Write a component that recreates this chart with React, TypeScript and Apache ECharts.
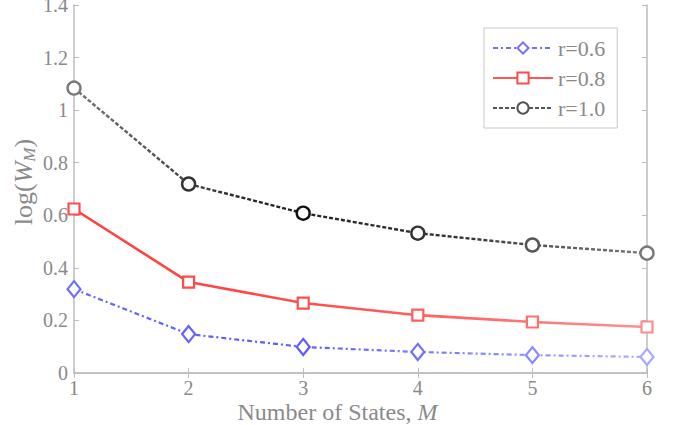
import React, { useEffect, useRef } from "react";
import * as echarts from "echarts";

const states = [1, 2, 3, 4, 5, 6];
const r06 = [0.319, 0.148, 0.099, 0.080, 0.068, 0.061];
const r08 = [0.624, 0.346, 0.266, 0.220, 0.194, 0.175];
const r10 = [1.084, 0.719, 0.608, 0.532, 0.487, 0.456];
const seriesNames = ["r=0.6", "r=0.8", "r=1.0"];
const yTicks = [0, 0.2, 0.4, 0.6, 0.8, 1, 1.2, 1.4];

const FONT = "Liberation Serif";
const GRAY = "#8a8a8a";
const AXIS = "#bdbdbd";

const markerColors06 = ["#6f6fff", "#6464ff", "#5c5cff", "#7070ff", "#8888ff", "#a8a8ff"];
const markerColors08 = ["#ff4a4a", "#ff4a4a", "#ff4d4d", "#ff5c5c", "#ff7070", "#ff8c8c"];
const markerColors10 = ["#7a7a7a", "#333333", "#111111", "#333333", "#555555", "#777777"];

function grad(stops: string[]) {
  return {
    type: "linear",
    x: 0,
    y: 0,
    x2: 1,
    y2: 0,
    colorStops: stops.map((c, i) => ({ offset: i / (stops.length - 1), color: c })),
  };
}

function mk(values: number[], colors: string[]) {
  return values.map((v, i) => ({
    value: [states[i], v],
    itemStyle: { borderColor: colors[i] },
  }));
}

export default function App() {
  const ref = useRef<HTMLDivElement>(null);
  useEffect(() => {
    const chart = echarts.init(ref.current!, null, { renderer: "svg" });
    const option: any = {
      animation: false,
      backgroundColor: "#ffffff",
      grid: { left: 74, right: 31, top: 5, bottom: 52, containLabel: false, outerBoundsMode: "none" },
      legend: {
        orient: "vertical",
        left: 484,
        top: 28,
        width: 146,
        padding: [9, 12, 9, 8],
        itemGap: 8,
        itemWidth: 60,
        itemHeight: 14,
        backgroundColor: "#ffffff",
        borderColor: "#c8c8c8",
        borderWidth: 1,
        borderRadius: 0,
        data: [
          { name: seriesNames[0], lineStyle: { color: "#7070ff" } },
          { name: seriesNames[1], lineStyle: { color: "#ff5555" } },
          { name: seriesNames[2], lineStyle: { color: "#555555" } },
        ],
        textStyle: { fontFamily: FONT, fontSize: 22, color: GRAY },
      },
      xAxis: [
        {
          type: "value",
          min: 1,
          max: 6,
          interval: 1,
          position: "bottom",
          name: "Number of States, {i|M}",
          nameLocation: "middle",
          nameGap: 27,
          nameMoveOverlap: false,
          nameTextStyle: {
            fontFamily: FONT,
            fontSize: 24,
            color: GRAY,
            padding: [0, 46, 0, 0],
            rich: { i: { fontFamily: FONT, fontSize: 24, fontStyle: "italic", color: GRAY } },
          },
          axisLine: { show: true, lineStyle: { color: AXIS, width: 1.5 } },
          axisTick: { show: true, inside: true, length: 5, lineStyle: { color: AXIS } },
          axisLabel: { fontFamily: FONT, fontSize: 20, color: GRAY, margin: 5 },
          splitLine: { show: false },
        },
        {
          type: "value",
          min: 1,
          max: 6,
          interval: 1,
          position: "top",
          axisLine: { show: true, lineStyle: { color: AXIS, width: 1.5 } },
          axisTick: { show: true, inside: true, length: 5, lineStyle: { color: AXIS } },
          axisLabel: { show: false },
          splitLine: { show: false },
        },
      ],
      yAxis: [
        {
          type: "value",
          min: yTicks[0],
          max: yTicks[yTicks.length - 1],
          interval: 0.2,
          position: "left",
          name: "log({i|W}{s|M})",
          nameLocation: "middle",
          nameGap: 36,
          nameMoveOverlap: false,
          nameRotate: 90,
          nameTextStyle: {
            fontFamily: FONT,
            fontSize: 26,
            color: GRAY,
            padding: [0, 0, 0, 14],
            rich: {
              i: { fontFamily: FONT, fontSize: 26, fontStyle: "italic", color: GRAY },
              s: {
                fontFamily: FONT,
                fontSize: 17,
                fontStyle: "italic",
                color: GRAY,
                padding: [12, 0, 0, 0],
              },
            },
          },
          axisLine: { show: true, lineStyle: { color: AXIS, width: 1.5 } },
          axisTick: { show: true, inside: true, length: 5, lineStyle: { color: AXIS } },
          axisLabel: {
            fontFamily: FONT,
            fontSize: 20,
            color: GRAY,
            margin: 6,
            formatter: (v: number) => (Number.isInteger(v) ? String(v) : v.toFixed(1)),
          },
          splitLine: { show: false },
        },
        {
          type: "value",
          min: yTicks[0],
          max: yTicks[yTicks.length - 1],
          interval: 0.2,
          position: "right",
          axisLine: { show: true, lineStyle: { color: AXIS, width: 1.5 } },
          axisTick: { show: true, inside: true, length: 5, lineStyle: { color: AXIS } },
          axisLabel: { show: false },
          splitLine: { show: false },
        },
      ],
      series: [
        {
          name: seriesNames[0],
          type: "line",
          data: mk(r06, markerColors06),
          symbol: "diamond",
          symbolSize: [13, 16],
          color: "#7070ff",
          itemStyle: { color: "#ffffff", borderColor: "#7070ff", borderWidth: 2.2 },
          lineStyle: { width: 2.2, type: [5, 3, 2, 3], color: grad(["#6a6aff", "#5a5aff", "#8080ff", "#aeaeff"]) },
          z: 3,
        },
        {
          name: seriesNames[1],
          type: "line",
          data: mk(r08, markerColors08),
          symbol: "rect",
          symbolSize: 11,
          color: "#ff5555",
          itemStyle: { color: "#ffffff", borderColor: "#ff4a4a", borderWidth: 2.2 },
          lineStyle: { width: 2.6, type: "solid", color: grad(["#ff4040", "#ff4848", "#ff6666", "#ff9090"]) },
          z: 4,
        },
        {
          name: seriesNames[2],
          type: "line",
          data: mk(r10, markerColors10),
          symbol: "circle",
          symbolSize: 13,
          color: "#555555",
          itemStyle: { color: "#ffffff", borderColor: "#555555", borderWidth: 2.4 },
          lineStyle: { width: 2.4, type: [4, 2], color: grad(["#777777", "#222222", "#333333", "#7a7a7a"]) },
          z: 5,
        },
      ],
    };
    chart.setOption(option);
    return () => chart.dispose();
  }, []);
  return <div ref={ref} style={{ width: 678, height: 425, position: "fixed", left: 0, top: 0 }} />;
}
